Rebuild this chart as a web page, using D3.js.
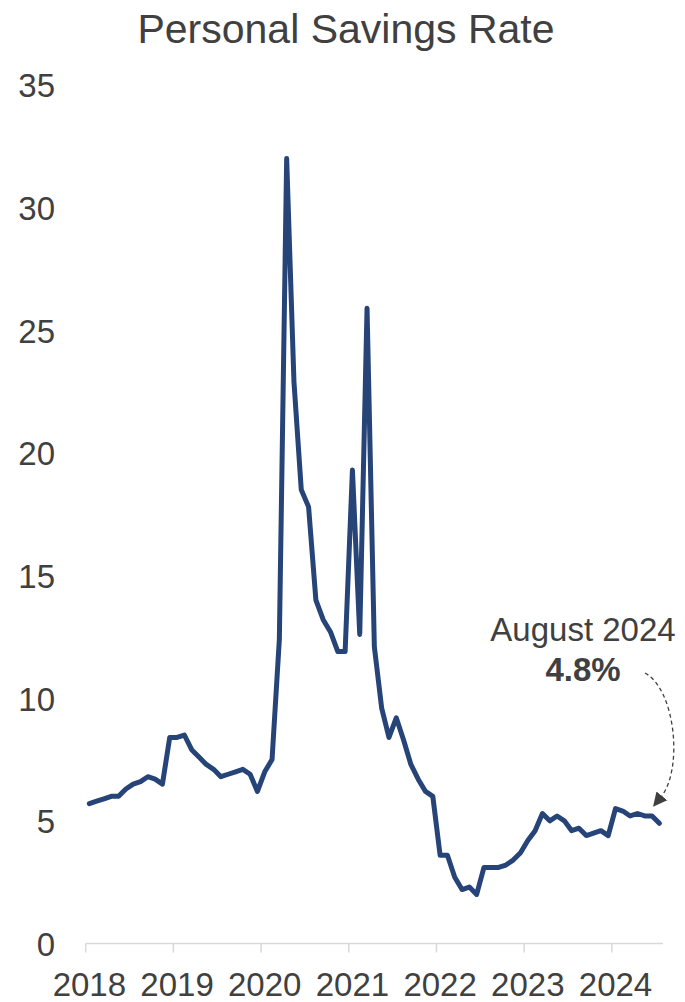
<!DOCTYPE html>
<html>
<head>
<meta charset="utf-8">
<script src="https://cdn.jsdelivr.net/npm/d3@7"></script>
<style>
    body { margin: 0; background: #fff; }
    svg text { font-family: "Liberation Sans", Arial, sans-serif; fill: #404040; }
</style>
</head>
<body>
<div id="chart"></div>
<script>
const width = 685;
const height = 1002;

// monthly personal savings rate, Jan 2018 onward
const months = d3.timeMonth.range(new Date(2018, 0, 1), new Date(2024, 7, 1));
const values = [
    5.7, 5.8, 5.9, 6.0, 6.0, 6.3, 6.5, 6.6, 6.8, 6.7, 6.5, 8.4,
    8.4, 8.5, 7.9, 7.6, 7.3, 7.1, 6.8, 6.9, 7.0, 7.1, 6.9, 6.2,
    7.0, 7.5, 12.4, 32.0, 22.9, 18.5, 17.8, 14.0, 13.2, 12.7, 11.9, 11.9,
    19.3, 12.6, 25.9, 12.1, 9.6, 8.4, 9.2, 8.3, 7.3, 6.7, 6.2, 6.0,
    3.6, 3.6, 2.7, 2.2, 2.3, 2.0, 3.1, 3.1, 3.1, 3.2, 3.4, 3.7,
    4.2, 4.6, 5.3, 5.0, 5.2, 5.0, 4.6, 4.7, 4.4, 4.5, 4.6, 4.4,
    5.5, 5.4, 5.2, 5.3, 5.2, 5.2, 4.9
];
const yTicks = [0, 5, 10, 15, 20, 25, 30, 35];
const yearLabels = ["2018", "2019", "2020", "2021", "2022", "2023", "2024"];
const title = "Personal Savings Rate";
const noteLines = ["August 2024", "4.8%"];

const data = values.map((v, i) => ({ i, date: months[i], value: v }));

const svg = d3.select("#chart")
    .append("svg")
    .attr("width", width)
    .attr("height", height);

const x = d3.scaleBand()
    .domain(d3.range(values.length))
    .range([85.7, 663])
    .paddingInner(0)
    .paddingOuter(0);

const y = d3.scaleLinear()
    .domain([0, 35])
    .range([943.5, 85]);

const cx = i => x(i) + x.bandwidth() / 2;

// title
svg.append("text")
    .attr("x", 346)
    .attr("y", 42.5)
    .attr("text-anchor", "middle")
    .style("font-size", "41px")
    .text(title);

// y labels (no axis line, no grid)
const yAxis = svg.append("g")
    .attr("transform", "translate(55,0)")
    .call(d3.axisLeft(y).tickValues(yTicks).tickSize(0).tickPadding(0));
yAxis.select(".domain").remove();
yAxis.selectAll("text")
    .style("font-size", "33px")
    .attr("dy", "0.36em")
    .style("fill", "#404040");

// x axis baseline + year ticks
svg.append("line")
    .attr("x1", x.range()[0])
    .attr("x2", x.range()[1])
    .attr("y1", y(0))
    .attr("y2", y(0))
    .attr("stroke", "#d9d9d9")
    .attr("stroke-width", 1.5);

const yearStarts = data.filter(d => d.date.getMonth() === 0);

svg.append("g")
    .selectAll("line")
    .data(yearStarts)
    .enter().append("line")
    .attr("x1", d => x(d.i))
    .attr("x2", d => x(d.i))
    .attr("y1", y(0))
    .attr("y2", y(0) + 9)
    .attr("stroke", "#d9d9d9")
    .attr("stroke-width", 1.5);

svg.append("g")
    .selectAll("text")
    .data(yearStarts)
    .enter().append("text")
    .attr("x", d => cx(d.i))
    .attr("y", 996)
    .attr("text-anchor", "middle")
    .style("font-size", "33px")
    .text((d, k) => yearLabels[k]);

// the series
const line = d3.line()
    .x(d => cx(d.i))
    .y(d => y(d.value));

svg.append("path")
    .datum(data)
    .attr("fill", "none")
    .attr("stroke", "#264478")
    .attr("stroke-width", 5)
    .attr("stroke-linejoin", "round")
    .attr("stroke-linecap", "round")
    .attr("d", line);

// annotation
svg.append("text")
    .attr("x", 583)
    .attr("y", 641)
    .attr("text-anchor", "middle")
    .style("font-size", "33px")
    .text(noteLines[0]);

svg.append("text")
    .attr("x", 583)
    .attr("y", 681)
    .attr("text-anchor", "middle")
    .style("font-size", "33px")
    .style("font-weight", "bold")
    .text(noteLines[1]);

const defs = svg.append("defs");
defs.append("marker")
    .attr("id", "arrow")
    .attr("viewBox", "0 0 10 10")
    .attr("refX", 1)
    .attr("refY", 5)
    .attr("markerUnits", "userSpaceOnUse")
    .attr("markerWidth", 14)
    .attr("markerHeight", 15)
    .attr("orient", "auto")
    .append("path")
    .attr("d", "M0,0 L10,5 L0,10 Z")
    .attr("fill", "#404040");

svg.append("path")
    .attr("d", "M645,673 C676,690 683,770 661,797")
    .attr("fill", "none")
    .attr("stroke", "#404040")
    .attr("stroke-width", 1.3)
    .attr("stroke-dasharray", "4,3")
    .attr("marker-end", "url(#arrow)");
</script>
</body>
</html>
